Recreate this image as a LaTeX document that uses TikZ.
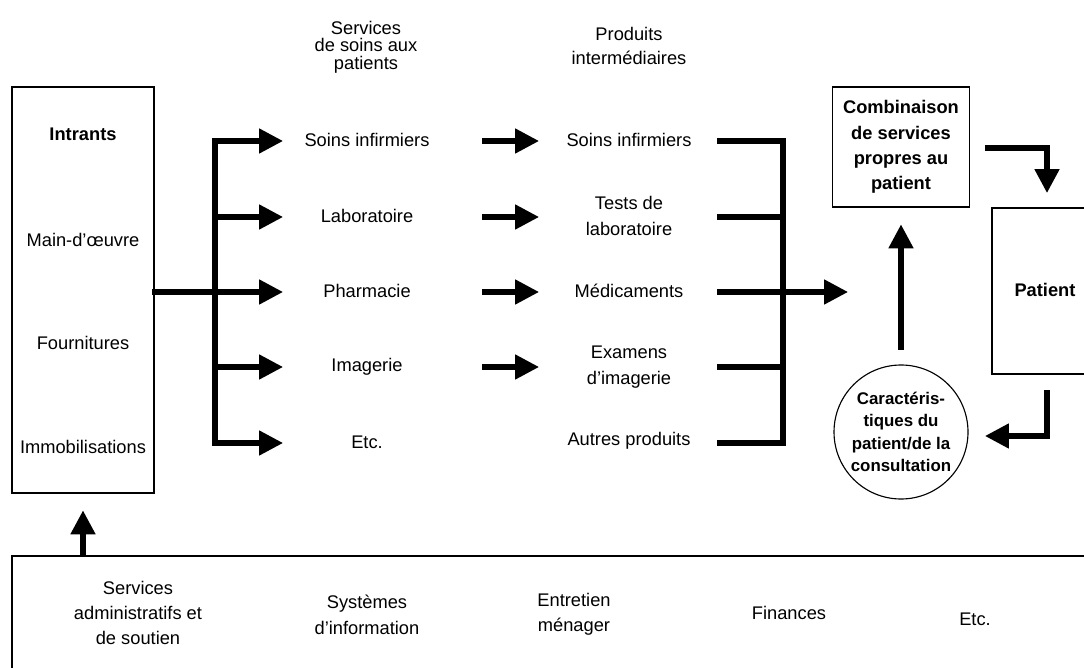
\documentclass[tikz,border=0pt]{standalone}
\usepackage{fontspec}
\setmainfont{Liberation Sans}
\usetikzlibrary{arrows.meta}

\tikzset{
    lbl/.style={font=\fontsize{13}{18}\selectfont, align=center, inner sep=0pt},
    blbl/.style={font=\fontsize{13}{18}\selectfont\bfseries, align=center, inner sep=0pt},
    box/.style={draw, line width=0.8pt, inner sep=0pt},
    flow/.style={line width=3.6pt, -{Triangle[length=17pt, width=17pt]}},
    bar/.style={line width=3.6pt, line cap=rect},
}

\begin{document}
\begin{tikzpicture}[x=0.025cm, y=-0.025cm]
                        \useasboundingbox (0,0) rectangle (1084,668);
                        \clip (0,0) rectangle (1084,668);

                        %\draw[help lines] (0,0) grid[step=100] (1084,668);

                        \node [box, minimum width=142*0.025cm, minimum height=406*0.025cm] (intrants) at (83,290) {};
                        \node [blbl] (intr) at (83,134) {Intrants};
                        \node [lbl] (mo) at (83,240) {Main-d’œuvre};
                        \node [lbl] (four) at (83,343) {Fournitures};
                        \node [lbl] (immo) at (83,447) {Immobilisations};

                        \node [lbl, font=\fontsize{13}{12.6}\selectfont] (hserv) at (366,47) {Services\\de soins aux\\patients};
                        \node [lbl, font=\fontsize{13}{17.5}\selectfont] (hprod) at (629,46) {Produits\\intermédiaires};

                        \node [lbl] (s1) at (367,140) {Soins infirmiers};
                        \node [lbl] (s2) at (367,216) {Laboratoire};
                        \node [lbl] (s3) at (367,291) {Pharmacie};
                        \node [lbl] (s4) at (367,367) {Imagerie};
                        \node [lbl] (s5) at (367,442) {Etc.};

                        \node [lbl] (p1) at (629,140) {Soins infirmiers};
                        \node [lbl] (p2) at (629,216) {Tests de\\laboratoire};
                        \node [lbl] (p3) at (629,291) {Médicaments};
                        \node [lbl] (p4) at (629,367) {Examens\\d’imagerie};
                        \node [lbl] (p5) at (629,441) {Autres produits};

                        \node [box, blbl, minimum width=137*0.025cm, minimum height=120*0.025cm] (combi) at (901,147) {Combinaison\\de services\\propres au\\patient};
                        \node [box, minimum width=150*0.025cm, minimum height=166*0.025cm] (patbox) at (1067,291) {};
                        \node [blbl] (patient) at (1045,290) {Patient};
                        \node [box, circle, blbl, font=\fontsize{12}{16}\selectfont\bfseries, minimum size=134*0.025cm] (carac) at (901,432) {Caractéris-\\tiques du\\patient/de la\\consultation};

                        \node [box, minimum width=1100*0.025cm, minimum height=130*0.025cm] (support) at (562,621) {};
                        \node [lbl] (admin) at (138,613) {Services\\administratifs et\\de soutien};
                        \node [lbl] (sys) at (367,615) {Systèmes\\d’information};
                        \node [lbl] (entr) at (574,614) {Entretien\\ménager};
                        \node [lbl] (fin) at (789,613) {Finances};
                        \node [lbl] (etc) at (975,619) {Etc.};

                        % left branching
                        \coordinate (j1) at (215,141);
                        \coordinate (j3) at (215,292);
                        \coordinate (j5) at (215,443);
                        \draw [bar] (intrants.east |- j3) -- (j3);
                        \draw [bar] (j1) -- (j5);
                        \draw [flow] (215,141) -- (283,141);
                        \draw [flow] (215,217) -- (283,217);
                        \draw [flow] (215,292) -- (283,292);
                        \draw [flow] (215,367) -- (283,367);
                        \draw [flow] (215,443) -- (283,443);

                        % services to products
                        \draw [flow] (482,141) -- (539,141);
                        \draw [flow] (482,217) -- (539,217);
                        \draw [flow] (482,292) -- (539,292);
                        \draw [flow] (482,367) -- (539,367);

                        % right branching
                        \coordinate (k1) at (783,141);
                        \coordinate (k3) at (783,292);
                        \coordinate (k5) at (783,443);
                        \coordinate (mix) at (848,292);
                        \draw [bar] (k1) -- (k5);
                        \draw [bar] (720,141) -- (k1);
                        \draw [bar] (720,217) -- (783,217);
                        \draw [bar] (720,292) -- (k3);
                        \draw [bar] (720,367) -- (783,367);
                        \draw [bar] (720,443) -- (k5);
                        \draw [flow] (k3) -- (mix);

                        \coordinate (c1) at (985,148);
                        \coordinate (c2) at (1047,193);
                        \draw [flow] (c1) -| (c2);
                        \coordinate (d1) at (1047,390);
                        \coordinate (d2) at (985,436);
                        \draw [flow] (d1) |- (d2);

                        \draw [flow, shorten <=10pt, shorten >=12pt] (carac.north) -- (combi.south);
                        \draw [flow, shorten >=12pt] (intrants.south |- support.north) -- (intrants.south);
                    \end{tikzpicture}
\end{document}
